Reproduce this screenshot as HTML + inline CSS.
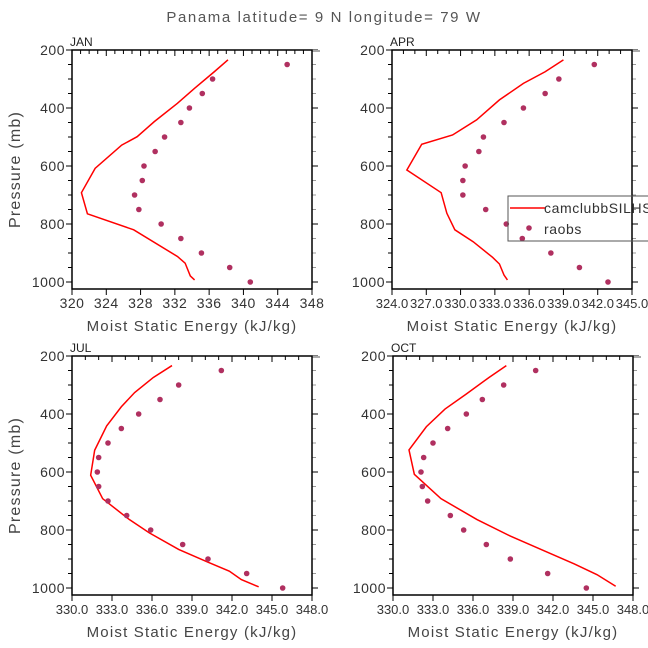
<!DOCTYPE html>
<html><head><meta charset="utf-8"><style>
body{margin:0;background:#fff}
svg{display:block;font-family:"Liberation Sans","DejaVu Sans",sans-serif}
</style></head><body>
<svg id="chart" width="648" height="648" viewBox="0 0 648 648">
<text x="324" y="22" text-anchor="middle" font-size="15" letter-spacing="1.6" fill="#555">Panama  latitude= 9 N longitude= 79 W</text>
</svg>
<script>
const dotP = [250,300,350,400,450,500,550,600,650,700,750,800,850,900,950,1000];
const janLineP = [234,275,332,384,447,499,528,608,692,765,820,912,935,979,993];
const janLineV = [338.2,336.6,334.3,332.3,329.6,327.6,325.8,322.7,321.1,321.8,327.2,332.3,333.2,333.8,334.3];
const janDots = [345.1,336.4,335.2,333.7,332.7,330.8,329.7,328.4,328.2,327.3,327.8,330.4,332.7,335.1,338.4,340.8];
const aprLineP = [234,275,315,372,441,493,525,614,692,763,820,861,915,938,976,993];
const aprLineV = [339.0,337.4,335.5,333.4,331.4,329.3,326.6,325.3,328.3,328.8,329.5,331.1,332.8,333.4,333.8,334.1];
const aprDots = [341.7,338.6,337.4,335.5,333.8,332.0,331.6,330.4,330.2,330.2,332.2,334.0,335.4,337.9,340.4,342.9];
const julLineP = [233,274,326,375,441,525,611,692,764,810,867,911,942,971,996];
const julLineV = [337.5,336.1,334.7,333.7,332.6,331.7,331.4,332.3,334.3,335.8,338.0,340.2,341.8,342.7,344.0];
const julDots = [341.2,338.0,336.6,335.0,333.7,332.7,332.0,331.9,332.0,332.7,334.1,335.9,338.3,340.2,343.1,345.8];
const octLineP = [233,274,331,383,444,524,608,692,764,821,867,917,954,994];
const octLineV = [338.5,337.2,335.5,333.9,332.5,331.2,331.6,333.6,336.3,338.8,341.1,343.6,345.3,346.7];
const octDots = [340.7,338.3,336.7,335.5,334.1,333.0,332.3,332.1,332.2,332.6,334.3,335.3,337.0,338.8,341.6,344.5];
const pTicks = [200,400,600,800,1000];
const janXTicks = [320,324,328,332,336,340,344,348];
const aprXTicks = [324,327,330,333,336,339,342,345];
const julXTicks = [330,333,336,339,342,345,348];

const NS="http://www.w3.org/2000/svg";
const svg=document.getElementById('chart');
function mk(tag,attrs,parent){const e=document.createElementNS(NS,tag);for(const k in attrs)e.setAttribute(k,attrs[k]);(parent||svg).appendChild(e);return e;}

const panels=[
 {name:'jan',label:'JAN',x0:72,y0:50,lineP:janLineP,lineV:janLineV,dots:janDots,ticks:janXTicks,minor:1,dec:0,ylab:true},
 {name:'apr',label:'APR',x0:392,y0:50,lineP:aprLineP,lineV:aprLineV,dots:aprDots,ticks:aprXTicks,minor:1,dec:1,ylab:false,legend:true},
 {name:'jul',label:'JUL',x0:72,y0:356,lineP:julLineP,lineV:julLineV,dots:julDots,ticks:julXTicks,minor:1,dec:1,ylab:true},
 {name:'oct',label:'OCT',x0:393,y0:356,lineP:octLineP,lineV:octLineV,dots:octDots,ticks:julXTicks,minor:1,dec:1,ylab:false}
];
const W=240,H=239;
panels.forEach(p=>{
 const g=mk('g',{});
 
 
 const xmin=p.ticks[0],xmax=p.ticks[p.ticks.length-1];
 const sx=v=>p.x0+(v-xmin)/(xmax-xmin)*W;
 const sy=v=>p.y0+(v-200)/800*232;
 for(let v=200;v<=1000;v+=50){
  const y=sy(v),maj=v%200===0,l=maj?6:4;
  mk('line',{x1:p.x0-l,x2:p.x0,y1:y,y2:y,stroke:'#000','stroke-width':1},g);
  mk('line',{x1:p.x0+W,x2:p.x0+W+l,y1:y,y2:y,stroke:maj?'#000':'#999','stroke-width':1},g);
 }
 for(let v=xmin;v<=xmax+1e-9;v+=p.minor){
  const x=sx(v),maj=p.ticks.some(t=>Math.abs(t-v)<1e-6),l=maj?6:4;
  mk('line',{x1:x,x2:x,y1:p.y0,y2:p.y0+l,stroke:'#000','stroke-width':1},g);
  mk('line',{x1:x,x2:x,y1:p.y0+H,y2:p.y0+H+(maj?6:0),stroke:'#000','stroke-width':1},g);
 }
 pTicks.forEach(v=>{
  const t=mk('text',{x:p.x0-7,y:sy(v)+5,'text-anchor':'end','font-size':14,'letter-spacing':0.5,fill:'#333'},g);
  
  
  t.textContent=v;
 });
 p.ticks.forEach(v=>{
  const t=mk('text',{x:sx(v),y:p.y0+H+19,'text-anchor':'middle','font-size':p.dec?13:14,'letter-spacing':p.dec?0:0.5,fill:'#333'},g);
  
  
  t.textContent=p.dec?v.toFixed(1):v;
 });
 mk('line',{x1:p.x0+W,x2:p.x0+W+8,y1:p.y0+1,y2:p.y0+1,stroke:'#aaa','stroke-width':2},g);
 const fr=mk('rect',{x:p.x0,y:p.y0,width:W,height:H,fill:'none',stroke:'#000','stroke-width':1.5},g);
 
 
 const lb=mk('text',{x:p.x0-2,y:p.y0-4,'font-size':12,fill:'#222'},g);
 
 
 lb.textContent=p.label;
 const xl=mk('text',{x:p.x0+W/2,y:p.y0+H+42,'text-anchor':'middle','font-size':15,'letter-spacing':1.2,fill:'#444'},g);
 
 
 xl.textContent='Moist Static Energy (kJ/kg)';
 if(p.ylab){
  const yl=mk('text',{x:0,y:0,transform:`translate(20,${p.y0+H/2}) rotate(-90)`,'text-anchor':'middle','font-size':16,'letter-spacing':1.2,fill:'#444'},g);
  
  
  yl.textContent='Pressure (mb)';
 }
 if(p.legend){
  const lg=mk('g',{},svg);
  
  
  mk('rect',{x:508,y:196,width:160,height:45,fill:'none',stroke:'#555','stroke-width':1},lg);
  mk('line',{x1:510,x2:545,y1:208,y2:208,stroke:'#f00','stroke-width':1.5},lg);
  const t1=mk('text',{x:544,y:213,'font-size':14,'letter-spacing':0.6,fill:'#333'},lg);t1.textContent='camclubbSILHS_';
  mk('circle',{cx:529,cy:228,r:2.8,fill:'#b03060'},lg);
  const t2=mk('text',{x:544,y:234,'font-size':14,'letter-spacing':0.6,fill:'#333'},lg);t2.textContent='raobs';
 }
 const pts=p.lineV.map((v,i)=>sx(v)+','+sy(p.lineP[i])).join(' ');
 const pl=mk('polyline',{points:pts,fill:'none',stroke:'#f00','stroke-width':1.5},g);
 
 
 p.dots.forEach((v,i)=>{
  const c=mk('circle',{cx:sx(v),cy:sy(dotP[i]),r:2.8,fill:'#b03060'},g);
  
  
 });
});
</script>
</body></html>
